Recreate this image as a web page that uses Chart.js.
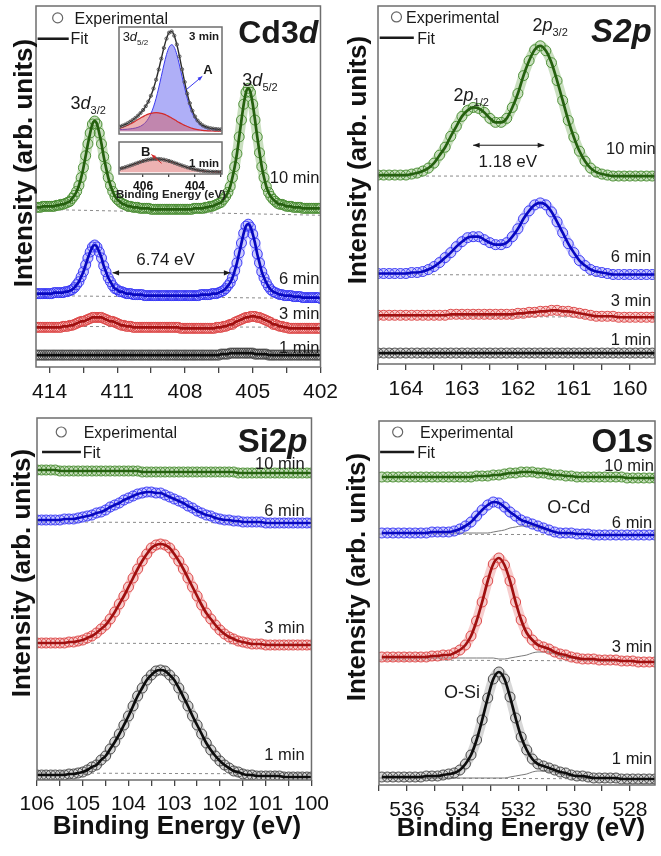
<!DOCTYPE html>
<html>
<head>
<meta charset="utf-8">
<script src="https://cdn.jsdelivr.net/npm/chart.js@4.4.0/dist/chart.umd.min.js"></script>
<style>
  html, body { margin: 0; padding: 0; background: #fff; }
  #fig { position: relative; width: 661px; height: 856px; overflow: hidden; background: #fff; }
  #fig canvas { position: absolute; }
  .ytitle, .xtitle { position: absolute; white-space: nowrap; font: bold 26px 'Liberation Sans', Arial, sans-serif; color: #111; line-height: 26px; }
  .ytitle { transform: translate(-50%, -50%) rotate(-90deg); }
  .xtitle { transform: translateX(-50%); }
  .xtitle.small { font-size: 11.5px; line-height: 12px; color: #222; }
</style>
</head>
<body>
<div id="fig">
  <canvas id="cdChart" width="345" height="402" style="left:0;top:0"></canvas>
  <canvas id="sChart" width="331" height="399" style="left:330px;top:0"></canvas>
  <canvas id="siChart" width="335" height="415" style="left:0;top:400px"></canvas>
  <canvas id="oChart" width="331" height="420" style="left:330px;top:400px"></canvas>
  <canvas id="insetTop" width="113" height="117" style="left:114px;top:22px"></canvas>
  <canvas id="insetBot" width="113" height="67" style="left:114px;top:137px"></canvas>

  <div class="ytitle" style="left:23px;top:163px">Intensity (arb. units)</div>
  <div class="ytitle" style="left:357px;top:160px">Intensity (arb. units)</div>
  <div class="ytitle" style="left:21px;top:573px">Intensity (arb. units)</div>
  <div class="ytitle" style="left:356px;top:577px">Intensity (arb. units)</div>
  <div class="xtitle" style="left:177px;top:812px">Binding Energy (eV)</div>
  <div class="xtitle" style="left:521px;top:814px">Binding Energy (eV)</div>
  <div class="xtitle small" style="left:171px;top:188px">Binding Energy (eV)</div>
</div>

<script>
'use strict';

// ── DATA: Cd3d ────────────────────────────────────────────────
const cdEnergy = [
  414.6,414.5,414.4,414.3,414.2,414.1,414.0,413.9,413.8,413.7,
  413.6,413.5,413.4,413.3,413.2,413.1,413.0,412.9,412.8,412.7,
  412.6,412.5,412.4,412.3,412.2,412.1,412.0,411.9,411.8,411.7,
  411.6,411.5,411.4,411.3,411.2,411.1,411.0,410.9,410.8,410.7,
  410.6,410.5,410.4,410.3,410.2,410.1,410.0,409.9,409.8,409.7,
  409.6,409.5,409.4,409.3,409.2,409.1,409.0,408.9,408.8,408.7,
  408.6,408.5,408.4,408.3,408.2,408.1,408.0,407.9,407.8,407.7,
  407.6,407.5,407.4,407.3,407.2,407.1,407.0,406.9,406.8,406.7,
  406.6,406.5,406.4,406.3,406.2,406.1,406.0,405.9,405.8,405.7,
  405.6,405.5,405.4,405.3,405.2,405.1,405.0,404.9,404.8,404.7,
  404.6,404.5,404.4,404.3,404.2,404.1,404.0,403.9,403.8,403.7,
  403.6,403.5,403.4,403.3,403.2,403.1,403.0,402.9,402.8,402.7,
  402.6,402.5,402.4,402.3,402.2,402.1,402.0
];
const cdMin10 = [
  161,161,161,162,162,162,162,162,162,163,
  163,164,164,165,166,167,170,173,177,183,
  191,201,213,225,236,245,248,245,236,225,
  212,201,191,183,177,172,169,167,165,164,
  163,162,162,161,161,161,160,160,160,160,
  160,159,159,159,159,159,159,159,159,159,
  159,159,159,159,159,159,159,159,159,159,
  160,160,160,160,160,161,161,162,162,163,
  164,165,166,169,172,176,182,191,202,215,
  232,249,265,277,281,277,265,249,232,216,
  202,191,182,176,172,169,167,165,164,164,
  163,162,162,162,161,161,161,161,160,160,
  160,160,160,160,160,160,160
];
const cdMin6 = [
  74,74,74,74,74,74,74,74,75,75,
  75,75,75,76,76,77,78,80,83,86,
  91,96,103,110,116,121,123,121,116,110,
  102,96,90,86,82,79,78,76,76,75,
  74,74,74,73,73,73,73,73,72,72,
  72,72,72,72,72,72,72,72,72,72,
  72,72,72,72,72,72,72,72,72,72,
  72,72,72,73,73,73,73,73,74,74,
  74,75,76,77,79,82,85,90,97,105,
  115,125,135,142,144,141,134,125,114,105,
  96,90,85,81,78,76,75,74,73,73,
  72,72,72,72,71,71,71,71,70,70,
  70,70,70,70,70,70,69
];
const cdMin3 = [
  40,40,40,40,40,40,40,40,40,40,
  40,40,41,41,41,42,42,43,44,45,
  46,46,47,48,49,50,50,50,50,50,
  49,48,47,46,46,45,44,43,42,42,
  41,41,41,40,40,40,40,40,40,40,
  40,40,40,40,40,40,40,40,40,40,
  40,40,40,40,39,39,39,39,39,39,
  39,39,39,39,39,39,39,39,39,39,
  40,40,40,41,41,42,43,43,45,46,
  47,48,49,50,50,51,51,51,50,50,
  49,48,47,46,45,43,43,42,41,41,
  40,40,39,39,39,39,39,39,39,39,
  39,39,39,39,39,39,39
];
const cdMin1 = [
  12,12,12,12,12,12,12,12,12,12,
  12,12,12,12,12,12,12,12,12,12,
  12,12,12,12,12,12,12,12,12,12,
  12,12,12,12,12,12,12,12,12,12,
  12,12,12,12,12,12,12,12,12,12,
  12,12,12,12,12,12,12,12,12,12,
  12,12,12,12,12,12,12,12,12,12,
  12,12,12,12,12,12,12,12,12,12,
  12,12,13,13,13,13,14,14,14,14,
  14,14,14,14,14,14,14,13,13,13,
  13,13,13,12,12,12,12,12,12,12,
  12,12,12,12,12,12,12,12,12,12,
  12,12,12,12,12,12,12
];
const cdBaseEnergy = [414.6, 402.0];
const cdBase10 = [159, 153];
const cdBase6  = [72, 69];
const cdBase3  = [41, 40];
const cdTicks  = [414, 412.5, 411, 409.5, 408, 406.5, 405, 403.5, 402];
const cdLabels = [414, 411, 408, 405, 402];

// ── DATA: Cd3d inset (3d5/2) ──────────────────────────────────
const insetEnergy = [
  406.9,406.8,406.7,406.6,406.5,406.4,406.3,406.2,406.1,406.0,
  405.9,405.8,405.7,405.6,405.5,405.4,405.3,405.2,405.1,405.0,
  404.9,404.8,404.7,404.6,404.5,404.4,404.3,404.2,404.1,404.0,
  403.9,403.8,403.7,403.6,403.5,403.4,403.3,403.2,403.1,403.0
];
const inset3Total = [
  7.8,8.9,10.0,11.5,13.2,15.1,17.2,19.7,22.5,25.8,
  29.9,34.8,41.1,48.9,58.4,69.3,81.0,92.5,102.5,108.9,
  110.2,105.7,96.1,83.4,69.5,55.8,43.4,33.1,25.0,18.8,
  14.4,11.4,9.2,7.8,6.8,6.2,5.7,5.3,5.1,4.9
];
const inset3A = [
  4.7,4.9,5.0,5.2,5.5,5.9,6.4,7.2,8.3,10.1,
  12.7,16.5,21.9,29.1,38.4,49.5,61.8,74.2,85.3,93.2,
  96.0,93.2,85.3,74.2,61.8,49.5,38.4,29.1,21.9,16.5,
  12.7,10.1,8.3,7.2,6.4,5.9,5.5,5.2,5.0,4.9
];
const inset3B = [
  6.1,7.0,8.0,9.3,10.7,12.2,13.8,15.5,17.2,18.7,
  20.2,21.3,22.2,22.8,23.0,22.8,22.2,21.3,20.2,18.7,
  17.2,15.5,13.8,12.2,10.7,9.3,8.0,7.0,6.1,5.3,
  4.7,4.3,3.9,3.6,3.4,3.3,3.2,3.1,3.1,3.0
];
const inset1Total = [
  5.9,6.7,7.5,8.5,9.5,10.5,11.6,12.6,13.7,14.6,
  15.4,16.1,16.6,16.9,17.0,16.9,16.6,16.1,15.4,14.6,
  13.7,12.6,11.6,10.5,9.5,8.5,7.5,6.7,5.9,5.2,
  4.5,4.0,3.6,3.2,2.9,2.7,2.5,2.4,2.3,2.2
];
const insetTicks  = [406, 405, 404, 403];
const insetLabels = [406, 404];

// ── DATA: S2p ─────────────────────────────────────────────────
const sEnergy = [
  164.5,164.4,164.3,164.2,164.1,164.0,163.9,163.8,163.7,163.6,
  163.5,163.4,163.3,163.2,163.1,163.0,162.9,162.8,162.7,162.6,
  162.5,162.4,162.3,162.2,162.1,162.0,161.9,161.8,161.7,161.6,
  161.5,161.4,161.3,161.2,161.1,161.0,160.9,160.8,160.7,160.6,
  160.5,160.4,160.3,160.2,160.1,160.0,159.9,159.8,159.7,159.6,159.5
];
const sMin10 = [
  190,190,190,190,190,190,191,192,194,197,
  202,210,218,229,239,249,255,258,257,253,
  247,243,243,247,258,272,290,305,316,320,
  315,303,285,265,245,228,214,204,197,193,
  191,190,189,189,189,189,189,189,189,189,189
];
const sMin6 = [
  91,91,91,91,91,91,92,92,93,95,
  98,102,107,112,118,123,127,128,128,125,
  122,120,120,122,128,136,146,154,160,162,
  160,153,143,132,121,112,104,99,95,93,
  92,91,90,90,90,90,90,90,90,90,90
];
const sMin3 = [
  49,49,49,49,49,49,49,49,49,49,
  49,49,49,50,50,50,50,50,50,50,
  50,50,50,50,50,51,51,52,52,53,
  53,54,54,53,53,52,51,50,49,48,
  48,48,48,47,47,47,47,47,47,47,47
];
const sMin1 = [
  11,11,11,11,11,11,11,11,11,11,
  11,11,11,11,11,11,11,11,11,11,
  11,11,11,11,11,11,11,11,11,11,
  11,11,11,11,11,11,11,11,11,11,
  11,11,11,11,11,11,11,11,11,11,11
];
const sBaseEnergy = [164.5, 159.55];
const sBase10 = [189, 189];
const sBase6  = [90, 89];
const sBase3  = [48, 47];
const sTicks  = [164.5, 164, 163.5, 163, 162.5, 162, 161.5, 161, 160.5, 160];
const sLabels = [164, 163, 162, 161, 160];

// ── DATA: Si2p ────────────────────────────────────────────────
const siEnergy = [
  106.0,105.9,105.8,105.7,105.6,105.5,105.4,105.3,105.2,105.1,
  105.0,104.9,104.8,104.7,104.6,104.5,104.4,104.3,104.2,104.1,
  104.0,103.9,103.8,103.7,103.6,103.5,103.4,103.3,103.2,103.1,
  103.0,102.9,102.8,102.7,102.6,102.5,102.4,102.3,102.2,102.1,
  102.0,101.9,101.8,101.7,101.6,101.5,101.4,101.3,101.2,101.1,
  101.0,100.9,100.8,100.7,100.6,100.5,100.4,100.3,100.2,100.1,100.0
];
const siMin10 = [
  310,310,310,310,310,309,309,309,309,309,
  309,309,309,309,309,309,309,309,309,309,
  309,309,309,308,308,308,308,308,308,308,
  308,308,308,308,308,308,308,308,308,308,
  308,308,308,308,307,307,307,307,307,307,
  307,307,307,307,307,307,307,307,307,307,307
];
const siMin6 = [
  260,260,260,260,260,260,261,261,261,262,
  263,264,265,267,268,270,273,275,277,280,
  282,284,286,287,288,288,287,287,285,283,
  281,279,277,274,272,269,267,265,264,262,
  261,260,260,259,259,258,258,258,258,258,
  257,257,257,257,257,257,257,257,257,257,257
];
const siMin3 = [
  137,137,137,137,137,137,137,138,138,139,
  140,142,144,147,151,155,161,168,176,184,
  193,202,211,219,226,232,235,236,235,232,
  226,219,211,202,193,184,175,167,161,155,
  150,146,143,141,139,138,137,136,136,136,
  135,135,135,135,135,135,135,135,135,135,135
];
const siMin1 = [
  5,5,5,5,5,5,5,6,6,7,
  8,10,13,15,20,24,31,38,46,55,
  64,74,84,92,100,105,109,110,109,105,
  100,92,83,74,64,55,46,37,30,24,
  19,15,12,9,8,6,5,5,4,4,
  4,4,4,4,3,3,3,3,3,3,3
];
const siBaseEnergy = [106, 100];
const siBase6  = [258, 257];
const siBase3  = [137, 136];
const siBase1  = [7, 6];
const siTicks  = [106, 105.5, 105, 104.5, 104, 103.5, 103, 102.5, 102, 101.5, 101, 100.5, 100];
const siLabels = [106, 105, 104, 103, 102, 101, 100];

// ── DATA: O1s ─────────────────────────────────────────────────
const oEnergy = [
  536.9,536.7,536.5,536.3,536.1,535.9,535.7,535.5,535.3,535.1,
  534.9,534.7,534.5,534.3,534.1,533.9,533.7,533.5,533.3,533.1,
  532.9,532.7,532.5,532.3,532.1,531.9,531.7,531.5,531.3,531.1,
  530.9,530.7,530.5,530.3,530.1,529.9,529.7,529.5,529.3,529.1,
  528.9,528.7,528.5,528.3,528.1,527.9,527.7,527.5,527.3,527.1
];
const oMin10 = [
  308,308,308,308,308,308,308,308,308,308,
  308,308,308,308,308,308,308,309,309,309,
  310,310,311,312,312,313,313,313,312,312,
  311,310,310,309,309,308,308,308,308,308,
  308,308,308,308,307,307,307,307,307,307
];
const oMin6 = [
  252,252,252,252,252,252,252,252,252,253,
  253,253,253,254,256,259,263,269,275,280,
  283,282,278,273,269,265,263,261,259,257,
  255,253,252,252,252,251,251,251,250,250,
  250,250,250,250,250,250,250,250,250,250
];
const oMin3 = [
  128,128,128,128,128,128,128,128,128,129,
  129,130,130,132,135,140,149,164,183,204,
  221,227,220,204,183,165,152,145,140,138,
  136,133,131,130,128,127,126,126,126,125,
  125,125,125,124,124,124,123,123,123,123
];
const oMin1 = [
  8,8,8,8,8,8,8,8,9,9,
  9,10,11,12,15,21,30,45,65,87,
  106,113,106,88,67,48,35,26,21,19,
  17,15,13,12,10,9,9,8,7,7,
  7,7,7,6,6,6,6,6,6,6
];
// O-Cd component under each spectrum
const oCd6 = [
  252,252,252,252,252,252,252,252,252,252,
  252,252,252,252,252,252,252,252,252,252,
  253,254,255,257,258,259,259,259,257,256,
  254,253,252,251,251,251,251,251,250,250,
  250,250,250,250,250,250,250,250,250,250
];
const oCd3 = [
  127,127,127,127,127,127,127,127,127,127,
  127,127,127,127,127,127,127,127,127,127,
  127,126,126,127,128,129,130,132,133,133,
  133,131,129,128,127,126,125,125,125,124,
  124,124,124,124,124,123,123,123,123,123
];
const oCd1 = [
  7,7,7,7,7,7,7,7,7,7,
  7,7,7,7,7,7,7,7,7,7,
  7,7,7,8,9,10,11,13,14,14,
  14,13,11,10,9,8,7,7,7,7,
  7,7,7,6,6,6,6,6,6,6
];
const oBaseEnergy = [537, 527.1];
const oBase6  = [251, 250];
const oBase3  = [125, 124];
const oBase1  = [7, 6];
const oTicks  = [537, 536, 535, 534, 533, 532, 531, 530, 529, 528];
const oLabels = [536, 534, 532, 530, 528];

// ── STYLE ─────────────────────────────────────────────────────
const FONT = "'Liberation Sans', Arial, Helvetica, sans-serif";
Chart.defaults.font.family = FONT;
Chart.defaults.color = '#111';

const COL = {
  green: { dot: 'rgba(72,140,48,0.95)', fit: '#25600f', band: 'rgba(120,175,95,0.4)' },
  blue:  { dot: 'rgba(55,55,245,0.95)', fit: '#0808c0', band: 'rgba(125,125,250,0.4)' },
  red:   { dot: 'rgba(220,70,70,0.95)', fit: '#a01010', band: 'rgba(235,130,130,0.4)' },
  black: { dot: 'rgba(70,70,70,0.95)',  fit: '#0d0d0d', band: 'rgba(140,140,140,0.35)' },
};

// ── HELPERS ───────────────────────────────────────────────────
const toPts = (xs, ys) => xs.map((x, i) => ({ x, y: ys[i] }));

/** Experimental circles + fit line + soft band under the circles. */
function spectrum(energy, values, col) {
  const pts = toPts(energy, values);
  return [
    { data: pts, borderColor: col.fit, borderWidth: 2.7, pointRadius: 0,
      cubicInterpolationMode: 'monotone', order: 0 },
    { data: pts, showLine: false, pointRadius: 5, pointBorderWidth: 1,
      pointBorderColor: col.dot, pointBackgroundColor: 'rgba(0,0,0,0)', order: 1 },
    { data: pts, borderColor: col.band, borderWidth: 10, pointRadius: 0,
      borderCapStyle: 'round', borderJoinStyle: 'round',
      cubicInterpolationMode: 'monotone', order: 2 },
  ];
}

function baseline(energy, values) {
  return { data: toPts(energy, values), borderColor: '#8a8a8a', borderWidth: 1,
           borderDash: [3, 3], pointRadius: 0, order: 3 };
}

function component(energy, values) {
  return { data: toPts(energy, values), borderColor: '#7a7a7a', borderWidth: 1,
           pointRadius: 0, cubicInterpolationMode: 'monotone', order: 1.5 };
}

function richText(ctx, parts, px, py, size, align) {
  const fontOf = f => (f.includes('i') ? 'italic ' : '') + (f.includes('b') ? 'bold ' : '') +
                      (f.includes('s') ? Math.round(size * 0.62) : size) + 'px ' + FONT;
  let w = 0;
  parts.forEach(([t, f]) => { ctx.font = fontOf(f); w += ctx.measureText(t).width; });
  let cx = align === 'right' ? px - w : align === 'center' ? px - w / 2 : px;
  const base = py + size * 0.36;
  ctx.textAlign = 'left';
  ctx.textBaseline = 'alphabetic';
  parts.forEach(([t, f]) => {
    ctx.font = fontOf(f);
    ctx.fillText(t, cx, base + (f.includes('s') ? size * 0.28 : 0));
    cx += ctx.measureText(t).width;
  });
}

function arrowHead(ctx, x1, y1, x2, y2, s) {
  const a = Math.atan2(y2 - y1, x2 - x1);
  ctx.beginPath();
  ctx.moveTo(x2, y2);
  ctx.lineTo(x2 - s * Math.cos(a - 0.38), y2 - s * Math.sin(a - 0.38));
  ctx.lineTo(x2 - s * Math.cos(a + 0.38), y2 - s * Math.sin(a + 0.38));
  ctx.closePath();
  ctx.fill();
}

/** Labels, arrows and legend keys, placed in data coordinates. */
function notesPlugin(items) {
  return {
    id: 'notes',
    afterDatasetsDraw(chart) {
      const { ctx, scales: { x, y } } = chart;
      const X = v => x.getPixelForValue(v), Y = v => y.getPixelForValue(v);
      ctx.save();
      items.forEach(n => {
        ctx.fillStyle = ctx.strokeStyle = n.color || '#1a1a1a';
        if (n.circle) {
          ctx.lineWidth = 1.2;
          ctx.beginPath();
          ctx.arc(X(n.circle[0]), Y(n.circle[1]), n.r || 4.5, 0, Math.PI * 2);
          ctx.stroke();
        } else if (n.line) {
          ctx.lineWidth = n.w || 2.5;
          ctx.beginPath();
          ctx.moveTo(X(n.line[0]), Y(n.line[1]));
          ctx.lineTo(X(n.line[2]), Y(n.line[3]));
          ctx.stroke();
        } else if (n.arrow) {
          const x1 = X(n.arrow[0]), y1 = Y(n.arrow[1]), x2 = X(n.arrow[2]), y2 = Y(n.arrow[3]);
          ctx.lineWidth = n.w || 1;
          ctx.beginPath(); ctx.moveTo(x1, y1); ctx.lineTo(x2, y2); ctx.stroke();
          arrowHead(ctx, x1, y1, x2, y2, n.head || 7);
          if (n.both) arrowHead(ctx, x2, y2, x1, y1, n.head || 7);
        } else {
          richText(ctx, n.text, X(n.x), Y(n.y), n.size || 16, n.align || 'left');
        }
      });
      ctx.restore();
    }
  };
}

const framePlugin = {
  id: 'frame',
  beforeDraw(chart) {
    const { ctx, chartArea: a } = chart;
    ctx.save();
    ctx.fillStyle = '#fff';
    ctx.fillRect(a.left, a.top, a.right - a.left, a.bottom - a.top);
    ctx.restore();
  },
  afterDatasetsDraw(chart) {
    const { ctx, chartArea: a } = chart;
    ctx.save();
    ctx.strokeStyle = '#6e6e6e';
    ctx.lineWidth = 1.5;
    ctx.strokeRect(a.left, a.top, a.right - a.left, a.bottom - a.top);
    ctx.restore();
  }
};

function xAxis(min, max, ticks, labels, font, tickLen, axisH, pad) {
  return {
    type: 'linear', reverse: true, min, max,
    afterBuildTicks: s => { s.ticks = ticks.map(v => ({ value: v })); },
    afterFit: s => { s.height = axisH; },
    ticks: {
      autoSkip: false, maxRotation: 0, padding: pad, color: '#111', font,
      callback: v => labels.includes(v) ? String(v) : '',
    },
    grid: { drawOnChartArea: false, tickLength: tickLen, color: '#444', lineWidth: 1.3 },
    border: { display: false },
  };
}

function makeChart(id, o) {
  return new Chart(document.getElementById(id), {
    type: 'line',
    data: { datasets: o.datasets },
    options: {
      responsive: false, animation: false, devicePixelRatio: 1,
      layout: { padding: o.pad },
      plugins: { legend: { display: false }, tooltip: { enabled: false } },
      scales: { x: o.x, y: { display: false, min: 0, max: o.ymax } },
    },
    plugins: [framePlugin, notesPlugin(o.notes)],
  });
}

const minLabel = (t, x, y, size, align) => ({ text: [[t, '']], x, y, size: size || 16.5, align: align || 'right' });

// ── PANEL: Cd3d ───────────────────────────────────────────────
makeChart('cdChart', {
  pad: { left: 36, right: 24, top: 3, bottom: 0 },
  ymax: 364,
  x: xAxis(402, 414.6, cdTicks, cdLabels, { size: 21 }, 6, 35, 7),
  datasets: [
    ...spectrum(cdEnergy, cdMin10, COL.green),
    ...spectrum(cdEnergy, cdMin6, COL.blue),
    ...spectrum(cdEnergy, cdMin3, COL.red),
    ...spectrum(cdEnergy, cdMin1, COL.black),
    baseline(cdBaseEnergy, cdBase10),
    baseline(cdBaseEnergy, cdBase6),
    baseline(cdBaseEnergy, cdBase3),
  ],
  notes: [
    { circle: [413.64, 352], r: 5, color: '#666' },
    { text: [['Experimental', '']], x: 412.89, y: 352, size: 16 },
    { line: [414.53, 331, 413.15, 331], w: 2.5 },
    { text: [['Fit', '']], x: 413.07, y: 331, size: 16 },
    { text: [['Cd3', 'b'], ['d', 'bi']], x: 402.1, y: 338, size: 32, align: 'right' },
    { text: [['3', ''], ['d', 'i'], ['3/2', 's']], x: 413.07, y: 267, size: 18 },
    { text: [['3', ''], ['d', 'i'], ['5/2', 's']], x: 405.46, y: 290, size: 18 },
    { arrow: [411.21, 95, 405.99, 95], both: true },
    { text: [['6.74 eV', '']], x: 408.86, y: 109, size: 17, align: 'center' },
    minLabel('10 min', 402.05, 192),
    minLabel('6 min', 402.05, 90),
    minLabel('3 min', 402.05, 54),
    minLabel('1 min', 402.05, 20),
  ],
});

// ── INSET: Cd3d5/2 components ─────────────────────────────────
makeChart('insetTop', {
  pad: { left: 1, right: 1, top: 1, bottom: 1 },
  ymax: 115,
  x: { type: 'linear', reverse: true, min: 402.96, max: 406.93, display: false },
  datasets: [
    { data: toPts(insetEnergy, inset3Total), borderColor: '#2a2a2a', borderWidth: 1.4,
      pointRadius: 1.6, pointBorderWidth: 1, pointBorderColor: '#555',
      pointBackgroundColor: 'rgba(0,0,0,0)', cubicInterpolationMode: 'monotone', order: 0 },
    { data: toPts(insetEnergy, inset3A), borderColor: '#3a3af0', borderWidth: 1,
      backgroundColor: 'rgba(95,95,240,0.5)', fill: { value: 3 }, pointRadius: 0,
      cubicInterpolationMode: 'monotone', order: 2 },
    { data: toPts(insetEnergy, inset3B), borderColor: '#d42a2a', borderWidth: 1.2,
      backgroundColor: 'rgba(215,85,85,0.45)', fill: { value: 3 }, pointRadius: 0,
      cubicInterpolationMode: 'monotone', order: 1 },
  ],
  notes: [
    { text: [['3', ''], ['d', 'i'], ['5/2', 's']], x: 406.79, y: 105, size: 13 },
    { text: [['3 min', 'b']], x: 403.07, y: 106, size: 11.5, align: 'right' },
    { arrow: [404.32, 48, 403.72, 62], color: '#3a3af0', head: 5 },
    { text: [['A', 'b']], x: 403.5, y: 69, size: 13, align: 'center' },
  ],
});

makeChart('insetBot', {
  pad: { left: 1, right: 1, top: 1, bottom: 0 },
  ymax: 36,
  x: xAxis(402.96, 406.93, insetTicks, insetLabels, { size: 12, weight: 'bold' }, 3, 30, 2),
  datasets: [
    { data: toPts(insetEnergy, inset1Total), borderColor: '#2a2a2a', borderWidth: 1.4,
      pointRadius: 1.6, pointBorderWidth: 1, pointBorderColor: '#555',
      pointBackgroundColor: 'rgba(0,0,0,0)', cubicInterpolationMode: 'monotone', order: 0 },
    { data: toPts(insetEnergy, inset1Total), borderColor: '#d42a2a', borderWidth: 1.2,
      backgroundColor: 'rgba(215,85,85,0.45)', fill: { value: 2 }, pointRadius: 0,
      cubicInterpolationMode: 'monotone', order: 1 },
  ],
  notes: [
    { text: [['B', 'b']], x: 405.9, y: 26, size: 13, align: 'center' },
    { arrow: [405.29, 12, 405.68, 22], color: '#d42a2a', head: 5 },
    { text: [['1 min', 'b']], x: 403.07, y: 13, size: 11.5, align: 'right' },
  ],
});

// ── PANEL: S2p ────────────────────────────────────────────────
makeChart('sChart', {
  pad: { left: 48, right: 1, top: 4, bottom: 0 },
  ymax: 360,
  x: xAxis(159.55, 164.5, sTicks, sLabels, { size: 21 }, 6, 35, 7),
  datasets: [
    ...spectrum(sEnergy, sMin10, COL.green),
    ...spectrum(sEnergy, sMin6, COL.blue),
    ...spectrum(sEnergy, sMin3, COL.red),
    ...spectrum(sEnergy, sMin1, COL.black),
    baseline(sBaseEnergy, sBase10),
    baseline(sBaseEnergy, sBase6),
    baseline(sBaseEnergy, sBase3),
  ],
  notes: [
    { circle: [164.17, 349], r: 5, color: '#666' },
    { text: [['Experimental', '']], x: 164.0, y: 349, size: 16 },
    { line: [164.47, 328, 163.86, 328], w: 2.5 },
    { text: [['Fit', '']], x: 163.8, y: 328, size: 16 },
    { text: [['S2p', 'bi']], x: 159.61, y: 336, size: 33, align: 'right' },
    { text: [['2', ''], ['p', 'i'], ['3/2', 's']], x: 161.74, y: 341, size: 18 },
    { text: [['2', ''], ['p', 'i'], ['1/2', 's']], x: 163.15, y: 271, size: 18 },
    { arrow: [162.8, 220, 161.53, 220], both: true },
    { text: [['1.18 eV', '']], x: 162.18, y: 204, size: 17, align: 'center' },
    minLabel('10 min', 159.54, 217),
    minLabel('6 min', 159.62, 109),
    minLabel('3 min', 159.62, 64),
    minLabel('1 min', 159.62, 25),
  ],
});

// ── PANEL: Si2p ───────────────────────────────────────────────
makeChart('siChart', {
  pad: { left: 37, right: 16, top: 18, bottom: 0 },
  ymax: 362,
  x: xAxis(100, 106, siTicks, siLabels, { size: 21 }, 6, 35, 6),
  datasets: [
    ...spectrum(siEnergy, siMin10, COL.green),
    ...spectrum(siEnergy, siMin6, COL.blue),
    ...spectrum(siEnergy, siMin3, COL.red),
    ...spectrum(siEnergy, siMin1, COL.black),
    baseline(siBaseEnergy, siBase6),
    baseline(siBaseEnergy, siBase3),
    baseline(siBaseEnergy, siBase1),
  ],
  notes: [
    { circle: [105.47, 348], r: 5, color: '#666' },
    { text: [['Experimental', '']], x: 104.98, y: 348, size: 16 },
    { line: [105.89, 328, 105.04, 328], w: 2.5 },
    { text: [['Fit', '']], x: 105.0, y: 328, size: 16 },
    { text: [['Si2', 'b'], ['p', 'bi']], x: 100.09, y: 340, size: 33, align: 'right' },
    minLabel('10 min', 100.15, 317),
    minLabel('6 min', 100.15, 270),
    minLabel('3 min', 100.15, 153),
    minLabel('1 min', 100.15, 26),
  ],
});

// ── PANEL: O1s ────────────────────────────────────────────────
makeChart('oChart', {
  pad: { left: 49, right: 1, top: 21, bottom: 0 },
  ymax: 364,
  x: xAxis(527.1, 537, oTicks, oLabels, { size: 21 }, 6, 35, 7),
  datasets: [
    ...spectrum(oEnergy, oMin10, COL.green),
    ...spectrum(oEnergy, oMin6, COL.blue),
    ...spectrum(oEnergy, oMin3, COL.red),
    ...spectrum(oEnergy, oMin1, COL.black),
    component(oEnergy, oCd6),
    component(oEnergy, oCd3),
    component(oEnergy, oCd1),
    baseline(oBaseEnergy, oBase6),
    baseline(oBaseEnergy, oBase3),
    baseline(oBaseEnergy, oBase1),
  ],
  notes: [
    { circle: [536.33, 353], r: 5, color: '#666' },
    { text: [['Experimental', '']], x: 535.53, y: 353, size: 16 },
    { line: [536.96, 333, 535.74, 333], w: 2.5 },
    { text: [['Fit', '']], x: 535.63, y: 333, size: 16 },
    { text: [['O1', 'b'], ['s', 'bi']], x: 527.14, y: 345, size: 33, align: 'right' },
    { text: [['O-Cd', '']], x: 530.19, y: 278, size: 18, align: 'center' },
    { text: [['O-Si', '']], x: 534.02, y: 93, size: 18, align: 'center' },
    minLabel('10 min', 527.14, 320),
    minLabel('6 min', 527.2, 263),
    minLabel('3 min', 527.2, 139),
    minLabel('1 min', 527.2, 27),
  ],
});
</script>
</body>
</html>
